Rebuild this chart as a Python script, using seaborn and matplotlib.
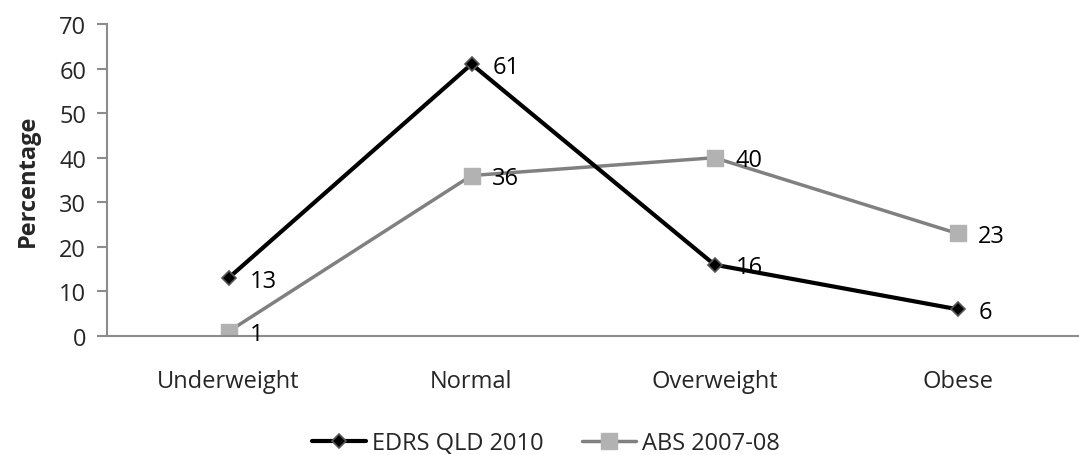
import matplotlib
matplotlib.use("Agg")
import matplotlib.pyplot as plt
import seaborn as sns
import pandas as pd

categories = ["Underweight", "Normal", "Overweight", "Obese"]
edrs_qld_2010 = [13, 61, 16, 6]
abs_2007_08 = [1, 36, 40, 23]
series_names = ["EDRS QLD 2010", "ABS 2007-08"]
y_ticks = [0, 10, 20, 30, 40, 50, 60, 70]

sns.set_theme(style="white")
plt.rcParams["font.family"] = ["Open Sans", "DejaVu Sans"]

FS = 17

df = pd.DataFrame({
    "category": categories * 2,
    "value": edrs_qld_2010 + abs_2007_08,
    "series": [series_names[0]] * 4 + [series_names[1]] * 4,
})

fig = plt.figure(figsize=(10.79, 4.56), dpi=100)
ax = fig.add_axes([107 / 1079, (456 - 337) / 456, (1079 - 107) / 1079, (337 - 25) / 456])

styles = {
    series_names[0]: dict(color="black", lw=3.0, marker="D", ms=7, mfc="black", mec="#555555", mew=1.2),
    series_names[1]: dict(color="#808080", lw=2.5, marker="s", ms=11, mfc="#b2b2b2", mec="#b2b2b2", mew=1),
}

for name in series_names[::-1]:
    sub = df[df["series"] == name]
    st = styles[name]
    sns.lineplot(data=sub, x="category", y="value", ax=ax, color=st["color"], lw=st["lw"],
                 marker=st["marker"], markersize=st["ms"], markerfacecolor=st["mfc"],
                 markeredgecolor=st["mec"], markeredgewidth=st["mew"], label=name, sort=False)
    for i, v in enumerate(sub["value"]):
        ax.annotate(str(v), (i, v), xytext=(15, -2), textcoords="offset points",
                    ha="left", va="center", fontsize=FS, color="black")

ax.set_xlim(-0.5, 3.5)
ax.set_ylim(0, 70)
ax.set_yticks(y_ticks)
ax.set_xticks(range(len(categories)))
ax.set_xticklabels(categories)
ax.tick_params(axis="y", which="both", left=True, length=7, width=1.5, color="#8c8c8c", labelsize=FS, pad=8)
ax.tick_params(axis="x", bottom=False, labelsize=FS, pad=18)
ax.set_xlabel("")
ax.set_ylabel("Percentage", fontsize=FS, fontweight="bold", labelpad=14)

for side in ["top", "right"]:
    ax.spines[side].set_visible(False)
for side in ["left", "bottom"]:
    ax.spines[side].set_color("#8c8c8c")
    ax.spines[side].set_linewidth(1.5)

handles, labels = ax.get_legend_handles_labels()
ax.get_legend().remove()
order = [labels.index(n) for n in series_names]
fig.legend([handles[i] for i in order], [labels[i] for i in order], loc="center",
           bbox_to_anchor=(546 / 1079, 1 - 444 / 456), ncol=2, frameon=False, fontsize=FS,
           handlelength=2.3, columnspacing=1.6, handletextpad=0.25, borderpad=0)

fig.savefig("out.png", dpi=100)
